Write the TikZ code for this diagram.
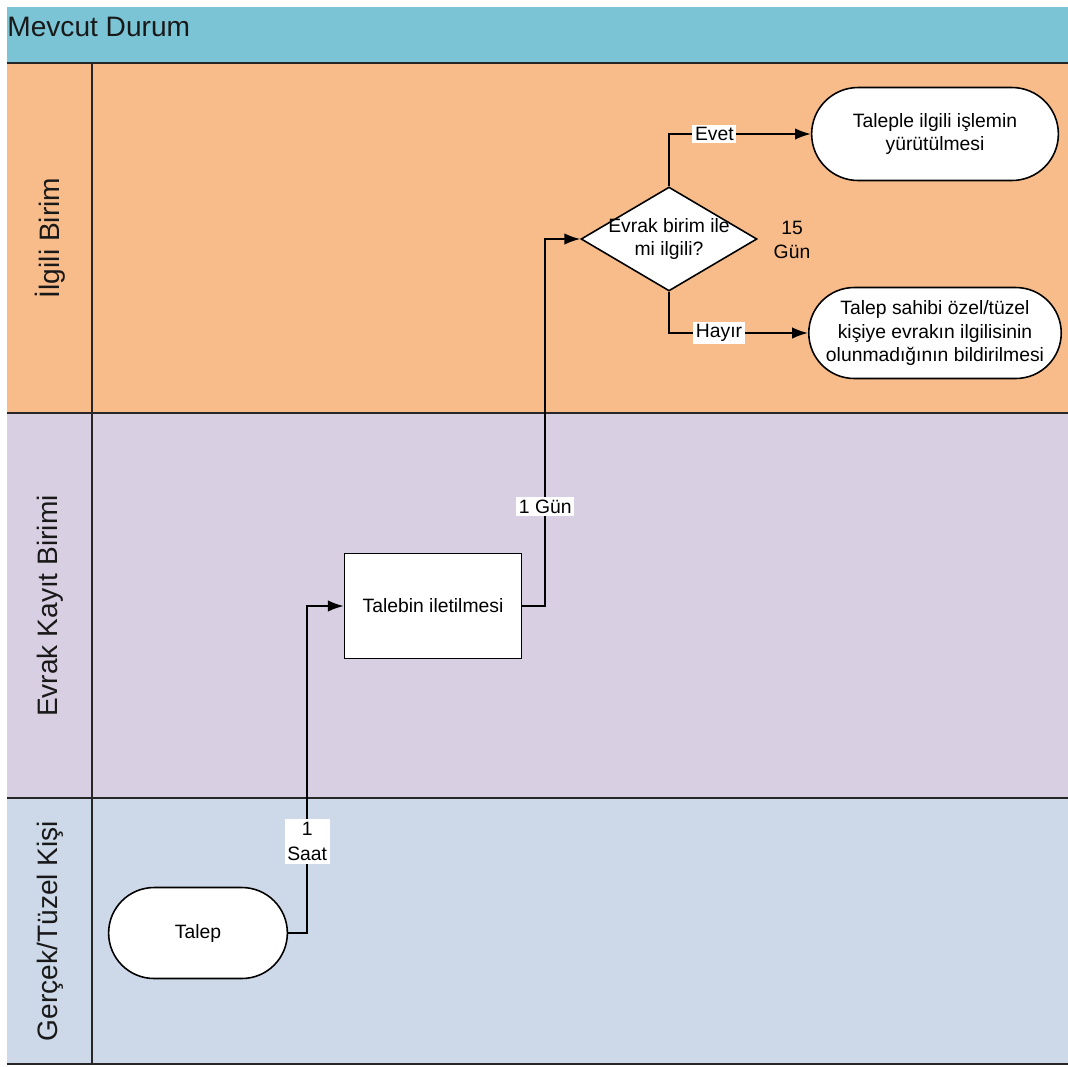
\documentclass[tikz,border=0pt]{standalone}
\usepackage{fontspec}
\setmainfont{Liberation Sans}
\usetikzlibrary{shapes.geometric,shapes.misc,arrows.meta}
\tikzset{>={Latex[length=9pt,width=6.5pt]}}
\definecolor{baslikmavi}{RGB}{122,196,214}
\definecolor{turuncu}{RGB}{248,188,138}
\definecolor{lila}{RGB}{216,207,226}
\definecolor{acikmavi}{RGB}{205,217,232}

\begin{document}
\begin{tikzpicture}[x=0.02cm,y=-0.02cm]
\useasboundingbox (0,0) rectangle (1068,1066);
% kulvarlar
\fill[baslikmavi] (7,7) rectangle (1068,63);
\fill[turuncu] (7,63) rectangle (1068,413);
\fill[lila] (7,413) rectangle (1068,798);
\fill[acikmavi] (7,798) rectangle (1068,1064);
\draw[line width=1pt,black!85] (7,63) -- (1068,63) (7,413) -- (1068,413)
    (7,798) -- (1068,798) (7,1064) -- (1068,1064) (92,63) -- (92,1064);

\begin{scope}[every node/.style={font=\fontsize{16}{19}\selectfont,text=black!90}]
\node[anchor=west,inner sep=0pt] (baslik) at (7,27) {Mevcut Durum};
\node[rotate=90] (ilgili) at (50,238) {İlgili Birim};
\node[rotate=90] (evrak) at (50,606) {Evrak Kayıt Birimi};
\node[rotate=90] (kisi) at (50,931) {Gerçek/Tüzel Kişi};
\end{scope}

\begin{scope}[every node/.style={font=\fontsize{11}{13.6}\selectfont,align=center,
        draw,fill=white,line width=0.9pt}]
\node[rounded rectangle,minimum width=3.81cm,minimum height=1.82cm] (talep) at (198,933) {Talep};
\node[rectangle,minimum width=3.54cm,minimum height=2.1cm] (ilet) at (433,606) {Talebin iletilmesi};
\node[diamond,aspect=1.7,inner sep=-4pt,minimum width=3.52cm,minimum height=2.08cm] (karar) at (669,239)
    {Evrak birim ile\\mi ilgili?};
\node[rounded rectangle,minimum width=5.17cm,minimum height=1.86cm] (islem) at (935,134)
    {Taleple ilgili işlemin\\yürütülmesi};
\node[rounded rectangle,minimum width=5.05cm,minimum height=1.82cm,inner xsep=0pt] (bildir) at (935,333)
    {Talep sahibi özel/tüzel\\kişiye evrakın ilgilisinin\\olunmadığının bildirilmesi};
\end{scope}

\node[font=\fontsize{11}{13.6}\selectfont,align=center] (sure15) at (792,240) {15\\Gün};

\begin{scope}[every node/.style={font=\fontsize{11}{14.5}\selectfont,align=center,
        fill=white,inner sep=1.5pt},
    every path/.style={line width=1pt}]
\draw[->] (talep.east) -- ++(19,0) |- node[pos=0.14] (saat) {1\\Saat} (ilet.west);
\draw[->] (ilet.east) -- ++(23,0) |- node[pos=0.135] (gun) {1 Gün} (karar.west);
\draw[->] (karar.north) |- node[pos=0.66] (evet) {Evet} (islem.west);
\draw[->] (karar.south) |- node[pos=0.68] (hayir) {Hayır} (bildir.west);
\end{scope}
\end{tikzpicture}
\end{document}
